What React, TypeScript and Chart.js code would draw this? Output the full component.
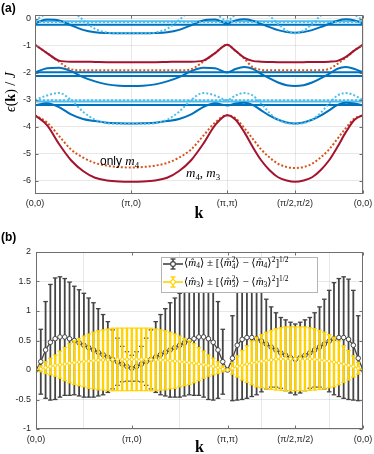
import React, { useEffect, useRef } from 'react';
import { Chart, registerables } from 'chart.js';
Chart.register(...registerables);

// ---------------- panel (a): band structure ----------------
const kPathA = [0, 0.125, 0.25, 0.375, 0.5, 0.625, 0.75, 0.875, 1,
  1.125, 1.25, 1.375, 1.5, 1.625, 1.75, 1.875, 2,
  2.088, 2.177, 2.265, 2.354, 2.442, 2.53, 2.619, 2.707,
  2.795, 2.884, 2.972, 3.061, 3.149, 3.237, 3.326, 3.414];

const lowM4M3 = [-3.58, -3.95, -4.65, -5.25, -5.65, -5.9, -6.0, -6.04, -6.05,
  -6.04, -6.0, -5.9, -5.65, -5.25, -4.65, -3.95, -3.58,
  -3.75, -4.2, -4.75, -5.25, -5.62, -5.88, -6.0, -6.05,
  -6.0, -5.88, -5.62, -5.25, -4.75, -4.2, -3.75, -3.58];
const lowOnlyM4 = [-3.58, -3.85, -4.35, -4.85, -5.15, -5.35, -5.45, -5.5, -5.52,
  -5.5, -5.45, -5.35, -5.15, -4.85, -4.35, -3.85, -3.58,
  -3.7, -4.05, -4.45, -4.85, -5.15, -5.38, -5.5, -5.54,
  -5.5, -5.38, -5.15, -4.85, -4.45, -4.05, -3.7, -3.58];
const midM4M3 = [-0.97, -1.28, -1.56, -1.6, -1.6, -1.61, -1.62, -1.62, -1.62,
  -1.62, -1.62, -1.61, -1.6, -1.6, -1.56, -1.28, -0.97,
  -1.2, -1.45, -1.57, -1.6, -1.61, -1.62, -1.62, -1.62,
  -1.62, -1.61, -1.61, -1.6, -1.57, -1.42, -1.18, -0.97];
const midOnlyM4 = [-0.97, -1.28, -1.6, -1.88, -1.92, -1.92, -1.92, -1.92, -1.92,
  -1.92, -1.92, -1.92, -1.92, -1.88, -1.6, -1.28, -0.97,
  -1.2, -1.48, -1.8, -1.9, -1.92, -1.92, -1.92, -1.92,
  -1.92, -1.92, -1.91, -1.87, -1.68, -1.45, -1.18, -0.97];
const topBlue = [-0.18, -0.04, -0.07, -0.25, -0.42, -0.51, -0.54, -0.55, -0.55,
  -0.55, -0.54, -0.51, -0.42, -0.25, -0.07, -0.04, -0.18,
  -0.07, -0.03, -0.08, -0.2, -0.32, -0.43, -0.5, -0.53,
  -0.5, -0.43, -0.32, -0.2, -0.08, -0.03, -0.07, -0.18];
const topLight = [-0.08, 0.2, 0.38, 0.3, -0.05, -0.38, -0.52, -0.55, -0.55,
  -0.55, -0.52, -0.38, -0.05, 0.3, 0.38, 0.2, -0.08,
  0.15, 0.35, 0.4, 0.3, 0.1, -0.2, -0.45, -0.55,
  -0.45, -0.2, 0.1, 0.3, 0.4, 0.35, 0.15, -0.08];
const midBlue = [-2.0, -1.84, -1.82, -1.95, -2.17, -2.33, -2.44, -2.49, -2.5,
  -2.49, -2.44, -2.33, -2.17, -1.95, -1.82, -1.84, -2.0,
  -1.87, -1.8, -1.86, -2.05, -2.22, -2.37, -2.47, -2.5,
  -2.47, -2.37, -2.22, -2.05, -1.86, -1.8, -1.87, -2.0];
const lowBlue = [-3.22, -3.14, -3.28, -3.55, -3.72, -3.8, -3.86, -3.88, -3.89,
  -3.88, -3.86, -3.8, -3.72, -3.55, -3.28, -3.14, -3.22,
  -3.15, -3.12, -3.2, -3.4, -3.6, -3.75, -3.85, -3.89,
  -3.85, -3.75, -3.6, -3.4, -3.2, -3.12, -3.15, -3.22];
const lowLight = [-3.02, -2.85, -2.76, -3.02, -3.45, -3.75, -3.87, -3.9, -3.9,
  -3.9, -3.87, -3.75, -3.45, -3.02, -2.76, -2.85, -3.02,
  -2.85, -2.76, -2.85, -3.15, -3.5, -3.75, -3.87, -3.9,
  -3.87, -3.75, -3.5, -3.15, -2.85, -2.76, -2.85, -3.02];
const flatBlueLevels = [-0.23, -1.99, -2.13, -3.2];
const flatLightSolidLevels = [-0.1, -3.07];
const flatLightDottedLevels = [-0.13, -3.03];

const yTicksA = [0, -1, -2, -3, -4, -5, -6];

// ---------------- panel (b): order parameters ----------------
const kPathB = [0, 0.05, 0.1, 0.15, 0.2, 0.25, 0.3, 0.35, 0.4, 0.45, 0.5, 0.55, 0.6, 0.65, 0.7, 0.75, 0.8, 0.85, 0.9, 0.95, 1,
  1.05, 1.1, 1.15, 1.2, 1.25, 1.3, 1.35, 1.4, 1.45, 1.5, 1.55, 1.6, 1.65, 1.7, 1.75, 1.8, 1.85, 1.9, 1.95, 2,
  2.051, 2.101, 2.152, 2.202, 2.253, 2.303, 2.354, 2.404, 2.455, 2.505, 2.556, 2.606, 2.657, 2.707,
  2.758, 2.808, 2.859, 2.909, 2.96, 3.01, 3.061, 3.111, 3.162, 3.212, 3.263, 3.313, 3.364, 3.414];
const m4Mean = [0, 0.14, 0.34, 0.47, 0.53, 0.56, 0.56, 0.53, 0.5, 0.46, 0.42, 0.38, 0.34, 0.3, 0.26, 0.22, 0.18, 0.14, 0.1, 0.06, 0.03,
  0.06, 0.1, 0.14, 0.18, 0.22, 0.26, 0.3, 0.34, 0.38, 0.42, 0.46, 0.5, 0.53, 0.56, 0.56, 0.53, 0.47, 0.34, 0.14, 0,
  0.2, 0.42, 0.52, 0.55, 0.55, 0.53, 0.49, 0.44, 0.39, 0.34, 0.29, 0.25, 0.21, 0.18,
  0.21, 0.25, 0.29, 0.34, 0.39, 0.44, 0.49, 0.53, 0.55, 0.55, 0.52, 0.42, 0.2, 0];
const m4Std = [0, 0.55, 0.82, 0.98, 1.03, 1.02, 0.99, 0.96, 0.92, 0.9, 0.88, 0.84, 0.8, 0.74, 0.68, 0.6, 0.5, 0.4, 0.3, 0.25, 0.22,
  0.25, 0.3, 0.4, 0.5, 0.6, 0.68, 0.74, 0.8, 0.84, 0.88, 0.9, 0.92, 0.96, 0.99, 1.02, 1.03, 0.98, 0.82, 0.55, 0,
  0.72, 0.93, 1.02, 1.03, 1.0, 0.95, 0.86, 0.76, 0.68, 0.63, 0.6, 0.6, 0.6, 0.6,
  0.6, 0.6, 0.6, 0.63, 0.68, 0.76, 0.86, 0.95, 1.0, 1.03, 1.02, 0.93, 0.72, 0];
const m3Mean = [0, 0.02, 0.04, 0.06, 0.075, 0.09, 0.1, 0.115, 0.125, 0.135, 0.145, 0.15, 0.16, 0.165, 0.17, 0.175, 0.178, 0.18, 0.18, 0.18, 0.18,
  0.18, 0.18, 0.18, 0.178, 0.175, 0.17, 0.165, 0.16, 0.15, 0.145, 0.135, 0.125, 0.115, 0.1, 0.09, 0.075, 0.06, 0.04, 0.02, 0,
  0.03, 0.06, 0.08, 0.1, 0.12, 0.135, 0.15, 0.16, 0.17, 0.18, 0.185, 0.19, 0.19, 0.19,
  0.19, 0.19, 0.185, 0.18, 0.17, 0.16, 0.15, 0.135, 0.12, 0.1, 0.08, 0.06, 0.03, 0];
const m3Std = [0, 0.05, 0.1, 0.14, 0.18, 0.23, 0.28, 0.33, 0.37, 0.4, 0.43, 0.46, 0.48, 0.5, 0.51, 0.52, 0.53, 0.53, 0.53, 0.53, 0.53,
  0.53, 0.53, 0.53, 0.53, 0.52, 0.51, 0.5, 0.48, 0.46, 0.43, 0.4, 0.37, 0.33, 0.28, 0.23, 0.18, 0.14, 0.1, 0.05, 0,
  0.1, 0.18, 0.25, 0.31, 0.37, 0.42, 0.45, 0.48, 0.5, 0.52, 0.53, 0.54, 0.54, 0.54,
  0.54, 0.54, 0.53, 0.52, 0.5, 0.48, 0.45, 0.42, 0.37, 0.31, 0.25, 0.18, 0.1, 0];
const yTicksB = [-1, -0.5, 0, 0.5, 1, 1.5, 2];

// shared k-path ticks
const xTickPos = [0, 1, 2, 2.707, 3.414];
const xTickLabels = ['(0,0)', '(π,0)', '(π,π)', '(π/2,π/2)', '(0,0)'];

// ---------------- styling ----------------
const RED = '#A2142F';
const ORANGE = '#D95319';
const BLUE = '#0072BD';
const LIGHT = '#4DBEEE';
const GREY = '#444444';
const YELLOW = '#FFD200';
const GRID = 'rgba(0,0,0,0.09)';
const TICKC = '#262626';
const SANS = "'Liberation Sans', Arial, Helvetica, sans-serif";
const SERIF = "'Liberation Serif', 'DejaVu Serif', 'Times New Roman', serif";

const W = 374;
const HA = 226;
const HB = 228;

const boxPlugin = {
  id: 'matlabBox',
  afterDatasetsDraw(chart: any) {
    const { ctx, chartArea: a, scales } = chart;
    const l = Math.round(a.left) + 0.5, t = Math.round(a.top) + 0.5;
    const r = Math.round(a.right) - 0.5, b = Math.round(a.bottom) - 0.5;
    ctx.save();
    ctx.strokeStyle = '#6e6e6e';
    ctx.lineWidth = 1;
    ctx.strokeRect(l, t, r - l, b - t);
    ctx.beginPath();
    scales.x.ticks.forEach((tk: any) => {
      const px = Math.round(scales.x.getPixelForValue(tk.value)) + 0.5;
      ctx.moveTo(px, b); ctx.lineTo(px, b - 3);
      ctx.moveTo(px, t); ctx.lineTo(px, t + 3);
    });
    scales.y.ticks.forEach((tk: any) => {
      const py = Math.round(scales.y.getPixelForValue(tk.value)) + 0.5;
      ctx.moveTo(l, py); ctx.lineTo(l + 3, py);
      ctx.moveTo(r, py); ctx.lineTo(r - 3, py);
    });
    ctx.stroke();
    ctx.restore();
  },
};

function xAxis(height: number, pad: number, titlePad: number) {
  return {
    type: 'linear',
    min: xTickPos[0],
    max: xTickPos[xTickPos.length - 1],
    offset: false,
    afterBuildTicks: (s: any) => { s.ticks = xTickPos.map((v) => ({ value: v })); },
    afterFit: (s: any) => { s.height = height; s.paddingLeft = 0; s.paddingRight = 0; },
    ticks: {
      callback: (_v: any, i: number) => xTickLabels[i],
      autoSkip: false, maxRotation: 0, padding: pad,
      font: { family: SANS, size: 9 }, color: TICKC,
    },
    grid: { color: GRID, drawTicks: false },
    border: { display: false },
    title: {
      display: true, text: 'k', color: '#000',
      font: { family: SERIF, size: 16, weight: 'bold' },
      padding: { top: 0, bottom: titlePad },
    },
  };
}

function yAxis(width: number, min: number, max: number, ticks: number[], pad: number) {
  return {
    type: 'linear', min, max,
    afterBuildTicks: (s: any) => { s.ticks = ticks.map((v) => ({ value: v })); },
    afterFit: (s: any) => { s.width = width; s.paddingTop = 0; s.paddingBottom = 0; },
    ticks: { padding: pad, font: { family: SANS, size: 9 }, color: TICKC, callback: (v: any) => String(v) },
    grid: { color: GRID, drawTicks: false },
    border: { display: false },
  };
}

function curve(values: number[], color: string, dotted: boolean) {
  return {
    type: 'line',
    data: kPathA.map((x, i) => ({ x, y: values[i] })),
    borderColor: color,
    borderWidth: 2,
    borderDash: dotted ? [2, 2] : [],
    pointRadius: 0,
    cubicInterpolationMode: 'monotone',
    fill: false,
  };
}
function flat(level: number, color: string, dotted: boolean) {
  const ends = [xTickPos[0], xTickPos[xTickPos.length - 1]];
  return {
    type: 'line',
    data: ends.map((x) => ({ x, y: level })),
    borderColor: color,
    borderWidth: 2,
    borderDash: dotted ? [2, 2] : [],
    pointRadius: 0,
    fill: false,
  };
}

function buildA() {
  const datasets: any[] = [
    curve(midM4M3, RED, false),
    curve(lowM4M3, RED, false),
    curve(midOnlyM4, ORANGE, true),
    curve(lowOnlyM4, ORANGE, true),
    curve(topLight, LIGHT, true),
    curve(lowLight, LIGHT, true),
    ...flatLightDottedLevels.map((v) => flat(v, LIGHT, true)),
    curve(topBlue, BLUE, false),
    curve(midBlue, BLUE, false),
    curve(lowBlue, BLUE, false),
    ...flatBlueLevels.map((v) => flat(v, BLUE, false)),
    ...flatLightSolidLevels.map((v) => flat(v, LIGHT, false)),
  ];
  return {
    type: 'line',
    data: { datasets },
    options: {
      responsive: false,
      animation: false,
      events: [],
      layout: { padding: { top: 15, left: 0, right: W - 363, bottom: 0 } },
      plugins: { legend: { display: false }, tooltip: { enabled: false } },
      scales: {
        x: xAxis(HA - 194, 4, 3),
        y: yAxis(35, -6.5, 0.13, yTicksA, 4),
      },
    },
    plugins: [boxPlugin],
  };
}

function buildB() {
  const bars = (mean: number[], sd: number[], color: string, thick: number) => ({
    type: 'bar',
    data: kPathB.map((x, i) => ({ x, y: [mean[i] - sd[i], mean[i] + sd[i]] })),
    backgroundColor: color,
    borderWidth: 0,
    grouped: false,
    maxBarThickness: thick,
  });
  const caps = (mean: number[], sd: number[], color: string) => ({
    type: 'line',
    showLine: false,
    data: kPathB.flatMap((x, i) => [{ x, y: mean[i] - sd[i] }, { x, y: mean[i] + sd[i] }]),
    pointStyle: 'line',
    pointRadius: 2.3,
    pointBorderWidth: 1.3,
    pointBorderColor: color,
    pointBackgroundColor: color,
  });
  const meanLine = (mean: number[], color: string, r: number) => ({
    type: 'line',
    data: kPathB.map((x, i) => ({ x, y: mean[i] })),
    borderColor: color,
    borderWidth: 1.3,
    pointRadius: r,
    pointBorderWidth: 1,
    pointBorderColor: color,
    pointBackgroundColor: '#ffffff',
    tension: 0,
    fill: false,
  });
  const datasets: any[] = [
    meanLine(m3Mean, YELLOW, 1.6),
    caps(m3Mean, m3Std, YELLOW),
    bars(m3Mean, m3Std, YELLOW, 2.4),
    meanLine(m4Mean, GREY, 2.3),
    caps(m4Mean, m4Std, GREY),
    bars(m4Mean, m4Std, GREY, 1.8),
  ];
  return {
    type: 'line',
    data: { datasets },
    options: {
      responsive: false,
      animation: false,
      events: [],
      layout: { padding: { top: 252 - HA, left: 0, right: W - 363, bottom: 0 } },
      plugins: { legend: { display: false }, tooltip: { enabled: false } },
      scales: {
        x: xAxis(HB - (429 - HA), 5, -3),
        y: yAxis(36, -1, 2, yTicksB, 5),
      },
    },
    plugins: [boxPlugin],
  };
}

// ---------------- math text helpers ----------------
function MHat() {
  return <span style={{ fontStyle: 'italic' }}>{'m\u0302'}</span>;
}
function Sub({ children }: { children: any }) {
  return <span style={{ fontSize: '0.68em', verticalAlign: '-0.3em' }}>{children}</span>;
}
function Sup({ children }: { children: any }) {
  return <span style={{ fontSize: '0.68em', verticalAlign: '0.5em' }}>{children}</span>;
}
function SupSub({ sup, sub }: { sup: string; sub: string }) {
  return (
    <span style={{ display: 'inline-block', verticalAlign: '-0.38em', fontSize: '0.66em', lineHeight: '0.95em' }}>
      <span style={{ display: 'block' }}>{sup}</span>
      <span style={{ display: 'block' }}>{sub}</span>
    </span>
  );
}
function LegendText({ n }: { n: string }) {
  return (
    <span>
      {'⟨'}<MHat /><Sub>{n}</Sub>{'⟩ ± [⟨'}<MHat /><SupSub sup="2" sub={n} />{'⟩ − ⟨'}<MHat /><Sub>{n}</Sub>{'⟩'}<Sup>2</Sup>{']'}<Sup>1/2</Sup>
    </span>
  );
}
function LegendSymbol({ color, r }: { color: string; r: number }) {
  return (
    <svg width={20} height={12} style={{ display: 'block' }}>
      <line x1={0} y1={6} x2={20} y2={6} stroke={color} strokeWidth={1.6} />
      <line x1={10} y1={1} x2={10} y2={11} stroke={color} strokeWidth={1.6} />
      <line x1={7.5} y1={1} x2={12.5} y2={1} stroke={color} strokeWidth={1.4} />
      <line x1={7.5} y1={11} x2={12.5} y2={11} stroke={color} strokeWidth={1.4} />
      <circle cx={10} cy={6} r={r} fill="#fff" stroke={color} strokeWidth={1.1} />
    </svg>
  );
}

const abs = (left: number, top: number, extra: any = {}) => ({ position: 'absolute' as const, left, top, whiteSpace: 'nowrap' as const, ...extra });

export default function App() {
  const refA = useRef<HTMLCanvasElement>(null);
  const refB = useRef<HTMLCanvasElement>(null);
  useEffect(() => {
    const a = new Chart(refA.current as any, buildA() as any);
    const b = new Chart(refB.current as any, buildB() as any);
    return () => { a.destroy(); b.destroy(); };
  }, []);

  return (
    <div style={{ position: 'fixed', left: 0, top: 0, width: W, height: 454, background: '#fff', overflow: 'hidden', fontFamily: SANS }}>
      <canvas ref={refA} width={W} height={HA} style={{ position: 'absolute', left: 0, top: 0 }} />
      <canvas ref={refB} width={W} height={HB} style={{ position: 'absolute', left: 0, top: HA }} />

      <div style={abs(1, 2, { fontSize: 12, fontWeight: 'bold', lineHeight: '12px' })}>(a)</div>
      <div style={abs(1, 231, { fontSize: 12, fontWeight: 'bold', lineHeight: '12px' })}>(b)</div>

      <div style={abs(11, 92, { transform: 'translate(-50%,-50%) rotate(-90deg)', fontFamily: SERIF, fontSize: 14, lineHeight: '16px' })}>
        <i>ϵ</i>(<b>k</b>) / <i>J</i>
      </div>

      <div style={abs(100, 154, { fontSize: 12, lineHeight: '14px' })}>
        only <span style={{ fontFamily: SERIF, fontSize: 13 }}><i>m</i><Sub>4</Sub></span>
      </div>
      <div style={abs(186, 166, { fontFamily: SERIF, fontSize: 13, lineHeight: '14px' })}>
        <i>m</i><Sub>4</Sub>, <i>m</i><Sub>3</Sub>
      </div>

      <div style={abs(161, 257, { width: 157, height: 36, boxSizing: 'border-box', border: '1px solid #b4b4b4', background: '#fff' })} />
      <div style={abs(163, 257.5)}><LegendSymbol color={GREY} r={2.4} /></div>
      <div style={abs(163, 276)}><LegendSymbol color={YELLOW} r={2.2} /></div>
      <div style={abs(184, 263.5, { transform: 'translateY(-50%)', fontFamily: SERIF, fontSize: 11, lineHeight: '14px' })}>
        <LegendText n="4" />
      </div>
      <div style={abs(184, 282, { transform: 'translateY(-50%)', fontFamily: SERIF, fontSize: 11, lineHeight: '14px' })}>
        <LegendText n="3" />
      </div>
    </div>
  );
}
